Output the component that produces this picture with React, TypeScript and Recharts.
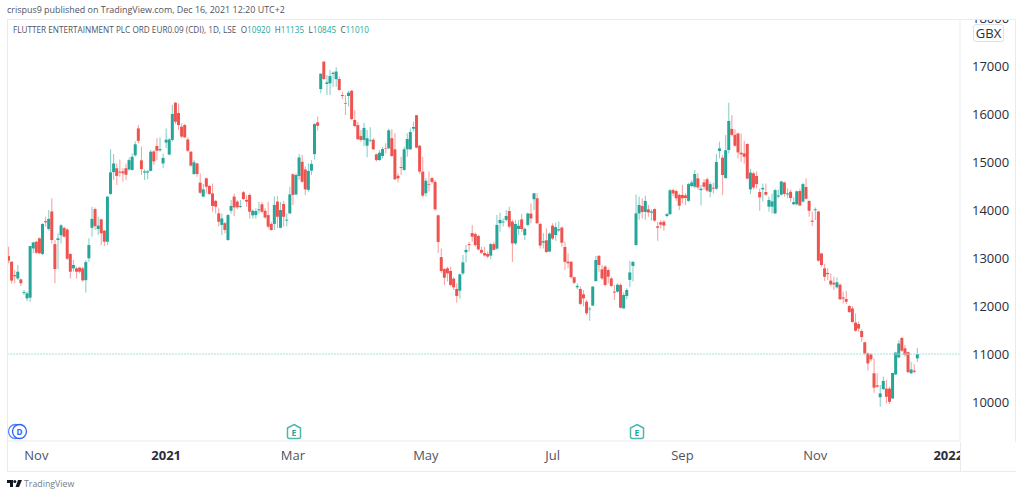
import { Bar, Cell, ComposedChart, ReferenceLine, XAxis, YAxis } from "recharts";

const opens = [
  13050,12935,12655,12585,12565,12280,12170,12185,13210,13350,
  13420,13095,13780,13615,13980,13300,13385,13485,13635,13605,
  13095,12795,12795,12810,12795,12550,13005,13640,14030,13615,
  13815,13580,13350,14345,14800,14880,14810,14815,14880,14855,
  14845,15150,15710,15045,14790,14790,14825,15230,15345,15255,
  14980,15415,15165,15470,16245,16030,15745,15780,15480,15225,
  14760,14980,14580,14290,14670,14510,14355,14200,13940,13700,
  13735,13385,13995,14290,14185,14075,14380,14220,14325,13900,
  13905,14005,14130,13995,13905,13720,13720,14185,13640,14135,
  13790,13940,14755,14335,14720,15015,14855,14430,14830,15175,
  15835,16530,17100,16635,16650,16845,16735,16740,16405,16235,
  16385,16495,15885,15780,15550,15470,15350,15455,15475,15170,
  15050,15135,15300,15295,15505,15275,14725,14905,14845,15275,
  15275,15705,15985,15350,14810,14360,14545,14675,14595,13900,
  13030,12780,12795,12740,12580,12365,12330,12690,13130,13300,
  13530,13510,13470,13180,13115,13095,13060,13300,13205,13735,
  13750,13805,13990,13770,13315,13615,13815,13485,13700,13935,
  14235,14255,13720,13330,13380,13145,13685,13490,13585,13645,
  13240,12935,12930,12610,12400,12365,12255,12100,11940,12020,
  12530,13055,12775,12830,12760,12585,12310,12310,12450,11960,
  12220,12555,12845,13280,13940,14095,13970,14025,13955,14030,
  13670,13755,13765,13885,13925,14425,14405,14325,14325,14315,
  14200,14510,14495,14670,14425,14585,14650,14390,14475,14455,
  15240,15100,14675,15260,15700,15575,15605,15205,15190,15385,
  14440,14775,14720,14385,14440,14385,14080,14080,13940,14290,
  14330,14585,14335,14390,14130,14130,14405,14185,14490,14200,
  13790,14005,13980,13105,12795,12700,12540,12495,12400,12455,
  12190,12155,12010,11960,11665,11635,11490,11255,11025,11005,
  10610,10360,10110,10280,10290,10290,10085,10585,10940,11345,
  11130,11050,10610,10665,10920,
];

const highs = [
  13245,12935,12760,12865,12585,12345,12310,13260,13350,13370,
  13440,13735,13870,14010,14255,13385,13525,13720,13665,13630,
  13110,12970,12830,12830,12830,12970,13420,14080,14065,13870,
  13835,13595,14290,15275,15175,14980,15065,14880,14980,15105,
  15190,15435,15780,15330,14855,14845,15260,15260,15505,15525,
  15190,15710,15505,16200,16260,16230,15815,15800,15525,15240,
  15050,14995,14775,14550,14690,14530,14565,14220,14045,13940,
  13765,13925,14220,14355,14220,14220,14405,14325,14355,14025,
  14045,14185,14185,14045,14185,13765,14290,14300,14185,14200,
  13940,14495,14775,14775,15175,15155,14915,14980,15050,15815,
  15955,16855,17115,16825,16925,16895,16985,16790,16475,16405,
  16495,16510,16095,15850,15675,15830,15675,15735,15505,15190,
  15260,15330,15400,15705,15690,15610,14775,15120,15330,15610,
  15710,15850,15990,15365,15120,14670,14810,14705,14635,13915,
  13210,12795,12830,12830,12610,12485,12690,13075,13280,13350,
  13700,13540,13490,13245,13245,13145,13330,13350,13905,13955,
  13835,14010,14080,13805,13805,13805,13930,13645,13955,14150,
  14360,14360,13745,13525,13630,13540,13735,13745,13770,13665,
  13350,13110,12955,12620,12485,12415,12345,12135,11995,12430,
  13055,13075,12865,12865,12795,12620,12450,12485,12485,12290,
  12380,12950,12955,14335,14290,14255,14310,14115,14025,14045,
  13765,13800,13800,13955,14455,14460,14440,14355,14530,14355,
  14580,14635,14845,14775,14530,14650,14690,14600,14580,15175,
  15435,15155,15575,16245,15990,15690,15620,15605,15455,15400,
  14870,14810,14810,14460,14565,14565,14290,14355,14460,14440,
  14620,14600,14460,14440,14275,14415,14460,14580,14670,14210,
  13975,14065,13995,13120,12885,12795,12690,12620,12605,12480,
  12310,12325,12030,12010,11855,11685,11525,11265,11040,11025,
  10920,10610,10365,10540,10470,10330,10620,11060,11300,11370,
  11200,11065,10850,10800,11135,
];

const lows = [
  12900,12485,12485,12550,12425,12240,12115,12100,13110,13095,
  13085,13075,13665,13580,13315,12485,12775,13315,13440,12970,
  12585,12725,12585,12690,12515,12290,12935,13455,13595,13490,
  13280,13260,13280,14325,14635,14530,14705,14600,14635,14830,
  14830,15120,15400,14740,14635,14650,14810,14950,15050,15225,
  14880,15295,15150,15435,15800,15675,15505,15505,15220,14915,
  14740,14705,14345,14275,14355,14325,13975,13940,13665,13490,
  13525,13370,13940,13885,14025,14045,14220,14080,13835,13835,
  13835,13940,13940,13835,13630,13580,13595,13630,13630,13665,
  13665,13925,14115,14320,14635,14580,14325,14390,14740,15065,
  15665,16440,16720,16405,16405,16580,16580,16495,16325,15990,
  16165,15885,15735,15470,15435,15345,15110,15415,15260,15020,
  15040,15085,15190,15275,15110,14635,14585,14740,14830,15120,
  15260,15645,15295,14760,14275,14290,14395,14565,13995,13120,
  12705,12450,12520,12415,12345,12080,12165,12655,12915,13145,
  13350,13245,13165,13095,13040,13005,12985,13165,13190,13560,
  13665,13770,13630,12930,13280,13490,13560,13385,13665,13735,
  14010,13720,13210,13210,13120,13130,13385,13370,13560,13245,
  12760,12795,12585,12470,12360,12030,12000,11825,11705,12010,
  12520,12725,12555,12415,12485,12400,12135,12290,11960,11955,
  12150,12400,12520,13270,13805,13835,13805,13870,13790,13765,
  13370,13630,13580,13855,13905,14290,14205,14010,14150,14115,
  14185,14480,14460,14440,14105,14440,14390,14275,14355,14425,
  15085,14325,14665,15190,15540,15330,15085,15015,14980,14650,
  14345,14440,14460,13995,14185,14300,13975,13940,13925,14255,
  14315,14290,14255,14185,14115,14105,14095,14165,14230,13870,
  13675,13800,12935,12830,12530,12550,12425,12345,12370,12135,
  12065,12050,11870,11665,11475,11475,11265,10990,10665,10850,
  10205,10315,9915,10260,9985,9970,10075,10575,10920,11060,
  10955,10610,10595,10610,10845,
];

const closes = [
  12955,12540,12630,12725,12485,12300,12275,13260,13335,13120,
  13110,13720,13755,13825,13385,12780,13420,13690,13455,12995,
  12725,12865,12725,12725,12545,12925,13280,13825,13675,13685,
  13525,13350,14290,14795,14980,14720,14790,14775,14745,15050,
  15120,15380,15450,14865,14815,14815,15225,15025,15245,15280,
  15095,15475,15480,16010,15850,15780,15540,15525,15245,14935,
  15005,14760,14370,14440,14495,14345,14095,14080,13765,13835,
  13595,13905,14095,14065,14065,14095,14240,14185,13975,13995,
  13990,14025,13975,13855,13665,13595,14115,13870,14010,13870,
  13810,14335,14325,14740,15105,14600,14440,14825,14970,15800,
  15765,16850,16740,16670,16800,16870,16895,16510,16385,16220,
  16455,15905,15760,15485,15470,15720,15505,15470,15275,15050,
  15205,15280,15290,15670,15135,14650,14670,14885,15275,15490,
  15635,15740,15310,14810,14310,14620,14530,14595,14025,13345,
  12740,12600,12690,12450,12400,12220,12670,12920,13180,13280,
  13455,13280,13190,13120,13065,13040,13300,13180,13700,13805,
  13770,13885,13665,13315,13720,13680,13615,13620,13940,13835,
  14360,13735,13270,13360,13135,13520,13415,13655,13610,13330,
  12930,12900,12610,12495,12430,12055,12170,11860,11955,12415,
  12970,12865,12585,12450,12620,12430,12290,12455,11975,12240,
  12345,12710,12930,13940,14115,13970,14200,13960,13980,13790,
  13640,13705,13685,13925,14420,14355,14255,14100,14255,14260,
  14550,14585,14760,14480,14455,14495,14415,14550,14455,15010,
  15295,14740,15255,15865,15575,15350,15210,15170,15120,14665,
  14790,14480,14550,14275,14470,14330,14220,14190,14425,14315,
  14605,14345,14355,14260,14175,14400,14105,14550,14245,13995,
  13765,14025,12955,12865,12620,12675,12460,12460,12505,12150,
  12165,12100,11885,11675,11495,11540,11365,11025,10815,10900,
  10310,10330,10190,10450,10120,10015,10615,11040,11230,11080,
  10990,10635,10690,10640,11010,
];

const priceTicks = [10000, 11000, 12000, 13000, 14000, 15000, 16000, 17000, 18000];
const monthTicks = [9, 51, 92, 135, 176, 218, 261, 304];
const monthLabels = ["Nov", "2021", "Mar", "May", "Jul", "Sep", "Nov", "2022"];
const lastClose = 11010;

const UP = "#26a69a";
const DOWN = "#ef5350";
const UP_WICK = "#8dd1ca";
const DOWN_WICK = "#f7a5a4";
const BORDER = "#e9ebf1";
const FONT = "'Open Sans', sans-serif";

const candles = opens.map((open, i) => ({
  day: i,
  open,
  close: closes[i],
  wick: [lows[i], highs[i]],
  body: [Math.min(open, closes[i]), Math.max(open, closes[i])],
}));

function MonthTick({ x, y, payload }: any) {
  const label = monthLabels[monthTicks.indexOf(payload.value)];
  const bold = label.length === 4;
  return (
    <text x={x} y={y + 11} textAnchor="middle" fontFamily={FONT} fontSize={13} fontWeight={bold ? 700 : 400} fill={bold ? "#2a2e39" : "#50535e"}>
      {label}
    </text>
  );
}

function EarningsMark({ left }: { left: number }) {
  return (
    <svg style={{ position: "absolute", left: left - 8, top: 423 }} width={16} height={17}>
      <path d="M8 1.5 L14.5 5 V14 a1.5 1.5 0 0 1 -1.5 1.5 H3 a1.5 1.5 0 0 1 -1.5 -1.5 V5 Z" fill="#fff" stroke="#4db6ac" strokeWidth={1.5} />
      <text x={8} y={12.5} textAnchor="middle" fontFamily={FONT} fontSize={8.5} fontWeight={700} fill="#26a69a">E</text>
    </svg>
  );
}

const textAt = (left: number, top: number, size: number, color: string) => ({
  position: "absolute" as const,
  left,
  top,
  fontFamily: FONT,
  fontSize: size,
  lineHeight: `${size + 2}px`,
  color,
  whiteSpace: "nowrap" as const,
});

export default function App() {
  return (
    <div style={{ position: "fixed", left: 0, top: 0, width: 1024, height: 497, background: "#fff", overflow: "hidden" }}>
      <div style={textAt(7, 5, 8.95, "#50535e")}>crispus9 published on TradingView.com, Dec 16, 2021 12:20 UTC+2</div>

      <div style={{ position: "absolute", left: 7, top: 19, width: 1009, height: 453, overflow: "hidden" }}>
        <ComposedChart width={1009} height={453} data={candles} margin={{ top: 0, right: 0, bottom: 0, left: 0 }}>
          <XAxis
            xAxisId="wick"
            dataKey="day"
            type="number"
            domain={[-0.5, 307.8]}
            ticks={monthTicks}
            interval={0}
            height={31}
            stroke={BORDER}
            tickLine={false}
            tick={<MonthTick />}
          />
          <XAxis xAxisId="body" dataKey="day" type="number" domain={[-0.5, 307.8]} orientation="top" height={0} hide />
          <YAxis
            orientation="right"
            type="number"
            domain={[9199, 17989]}
            allowDataOverflow
            ticks={priceTicks}
            interval={0}
            width={56}
            stroke={BORDER}
            tickLine={false}
            tickMargin={6}
            tick={{ fontFamily: FONT, fontSize: 13, fill: "#2a2e39" }}
          />
          <ReferenceLine xAxisId="wick" y={lastClose} stroke="#a5e0d9" strokeDasharray="2 1" />
          <Bar xAxisId="wick" dataKey="wick" barSize={1.1} isAnimationActive={false}>
            {candles.map((c) => (
              <Cell key={c.day} fill={c.close >= c.open ? UP_WICK : DOWN_WICK} />
            ))}
          </Bar>
          <Bar xAxisId="body" dataKey="body" barSize={3} isAnimationActive={false}>
            {candles.map((c) => (
              <Cell key={c.day} fill={c.close >= c.open ? UP : DOWN} />
            ))}
          </Bar>
        </ComposedChart>
      </div>

      <div style={{ position: "absolute", left: 7, top: 19, width: 1009, height: 453, boxSizing: "border-box", border: `1px solid ${BORDER}`, pointerEvents: "none" }} />
      <div style={{ position: "absolute", left: 960, top: 442, width: 56, height: 29, background: "#fff", boxSizing: "border-box", borderLeft: `1px solid ${BORDER}` }} />

      <div style={textAt(13, 24.5, 8.2, "#50535e")}>
        FLUTTER ENTERTAINMENT PLC ORD EUR0.09 (CDI), 1D, LSE&nbsp;&nbsp;O<span style={{ color: UP }}>10920</span>&nbsp;&nbsp;H<span style={{ color: UP }}>11135</span>&nbsp;&nbsp;L<span style={{ color: UP }}>10845</span>&nbsp;&nbsp;C<span style={{ color: UP }}>11010</span>
      </div>

      <div style={{ ...textAt(973, 24, 13, "#2a2e39"), width: 31, height: 18, lineHeight: "17px", textAlign: "center", background: "#fff", border: "1px solid #dfe1e8", borderRadius: 3, boxSizing: "border-box" }}>
        GBX
      </div>

      <svg style={{ position: "absolute", left: 7, top: 423 }} width={22} height={17}>
        <circle cx={8.5} cy={8.5} r={7} fill="#fff" stroke="#5b84f5" strokeWidth={1.3} />
        <circle cx={12.5} cy={8.5} r={7} fill="#fff" stroke="#2962ff" strokeWidth={1.3} />
        <text x={12.5} y={11.5} textAnchor="middle" fontFamily={FONT} fontSize={8} fontWeight={700} fill="#2962ff">D</text>
      </svg>
      <EarningsMark left={294} />
      <EarningsMark left={637} />

      <svg style={{ position: "absolute", left: 7, top: 480 }} width={15} height={8}>
        <path d="M0 0 H6 V7 H3 V3 H0 Z" fill="#131722" />
        <circle cx={7.8} cy={1.5} r={1.5} fill="#131722" />
        <path d="M11 0 H15 L12 7 H8.5 Z" fill="#131722" />
      </svg>
      <div style={textAt(24, 479, 8.8, "#787b86")}>TradingView</div>
    </div>
  );
}
